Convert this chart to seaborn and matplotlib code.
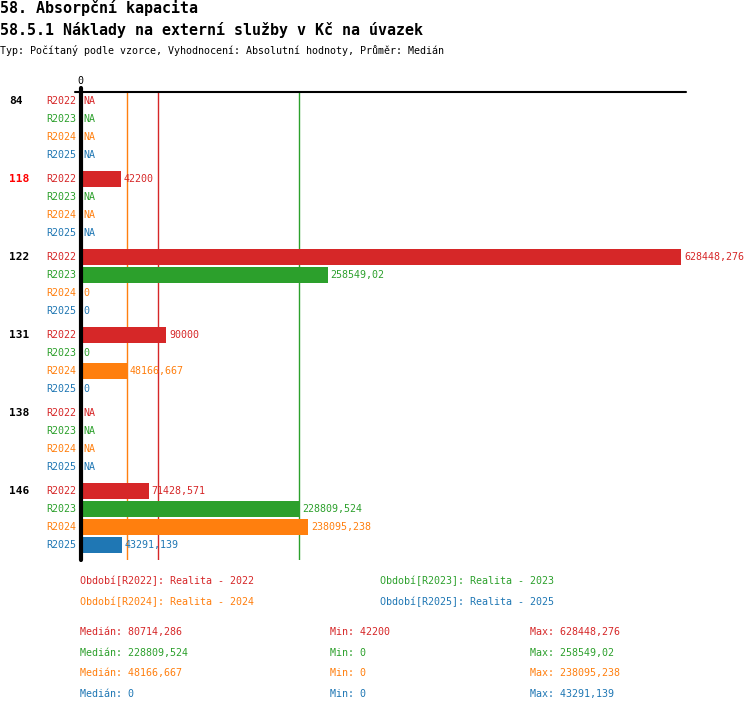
import numpy as np
import pandas as pd
import matplotlib
matplotlib.use("Agg")
import matplotlib.pyplot as plt
from matplotlib.lines import Line2D
import seaborn as sns

# ---------------- data ----------------
groups = ["84", "118", "122", "131", "138", "146"]
periods = ["R2022", "R2023", "R2024", "R2025"]
period_names = ["Realita - 2022", "Realita - 2023", "Realita - 2024", "Realita - 2025"]
nan = np.nan
r2022 = [nan, 42200, 628448.276, 90000, nan, 71428.5714]
r2023 = [nan, nan, 258549.02, 0, nan, 228809.524]
r2024 = [nan, nan, 0, 48166.667, nan, 238095.238]
r2025 = [nan, nan, 0, 0, nan, 43291.139]
highlight_group = "118"

title1 = "58. Absorpční kapacita"
title2 = "58.5.1 Náklady na externí služby v Kč na úvazek"
subtitle = "Typ: Počítaný podle vzorce, Vyhodnocení: Absolutní hodnoty, Průměr: Medián"

colors = {"R2022": "#d62728", "R2023": "#2ca02c", "R2024": "#ff7f0e", "R2025": "#1f77b4"}

series = {"R2022": r2022, "R2023": r2023, "R2024": r2024, "R2025": r2025}

# ---------------- layout helpers ----------------
W, H = 750, 710
GROUP_STEP = 4 + 1 / 3.0
X0 = 80.5

rows = []
for gi, g in enumerate(groups):
    for pi, p in enumerate(periods):
        rows.append({"group": g, "period": p, "pos": gi * GROUP_STEP + pi,
                     "value": series[p][gi]})
df = pd.DataFrame(rows)
df_bars = df.dropna(subset=["value"])


def fmt(v):
    s = f"{v:.3f}".rstrip("0").rstrip(".")
    return s.replace(".", ",")


sns.set_style("white")
plt.rcParams["font.family"] = ["DejaVu Sans Mono", "DejaVu Sans"]
plt.rcParams["text.color"] = "black"
plt.rcParams["xtick.color"] = "black"
FS = 7.2

fig = plt.figure(figsize=(W / 100, H / 100), dpi=100)
ax = fig.add_axes([X0 / W, 1 - 560 / H, (686 - X0) / W, (560 - 92) / H])

sns.barplot(data=df_bars, x="value", y="pos", hue="period", hue_order=periods,
            palette=colors, orient="h", native_scale=True, dodge=False,
            width=16 / 18, errorbar=None, legend=False, ax=ax,
            saturation=1, linewidth=0)

vmax = np.nanmax(df["value"].values)
ax.set_xlim(0, vmax * (686 - X0) / (681 - X0))
ax.set_ylim(25.5, -0.5)

# median lines
stats = {}
for p in periods:
    vals = np.array([v for v in series[p] if not np.isnan(v)])
    stats[p] = (np.median(vals), vals.min(), vals.max())
for p in periods:
    ax.axvline(stats[p][0], color=colors[p], lw=1, zorder=0.5)

# spines and ticks
for s in ["right", "bottom", "top", "left"]:
    ax.spines[s].set_visible(False)
fig.add_artist(Line2D([75 / W, 686 / W], [1 - 92 / H, 1 - 92 / H], color="black", lw=1.5))
fig.add_artist(Line2D([X0 / W, X0 / W], [1 - 88 / H, 1 - 560 / H], color="black", lw=3,
                      zorder=5))
ax.xaxis.tick_top()
ax.set_xticks([0])
ax.set_xticklabels(["0"], fontsize=FS)
ax.tick_params(axis="x", length=4, width=0, pad=0, colors="black")
ax.set_yticks([])
ax.set_xlabel("")
ax.set_ylabel("")
ax.grid(False)

# labels
for _, r in df.iterrows():
    c = colors[r["period"]]
    ax.annotate(r["period"], xy=(0, r["pos"]), xytext=(-4, 0), textcoords="offset pixels",
                ha="right", va="center", fontsize=FS, color=c, annotation_clip=False)
    if np.isnan(r["value"]):
        txt, x = "NA", 0
    else:
        txt, x = fmt(r["value"]), r["value"]
    ax.annotate(txt, xy=(x, r["pos"]), xytext=(3, 0), textcoords="offset pixels",
                ha="left", va="center", fontsize=FS, color=c, annotation_clip=False,
                zorder=6)

for gi, g in enumerate(groups):
    ax.annotate(g, xy=(0, gi * GROUP_STEP), xycoords=("axes fraction", "data"),
                xytext=(9 - X0, 0), textcoords="offset pixels",
                ha="left", va="center", fontsize=8, fontweight="bold",
                color="#ff0000" if g == highlight_group else "black",
                annotation_clip=False)


def ftext(x, y, s, **kw):
    fig.text(x / W, 1 - y / H, s, va="center", ha="left", **kw)


ftext(0, 8, title1, fontsize=10.8, fontweight="bold")
ftext(0, 30, title2, fontsize=10.8, fontweight="bold")
ftext(0, 50, subtitle, fontsize=FS)

leg_pos = [(80, 581), (380, 581), (80, 602), (380, 602)]
for p, name, (x, y) in zip(periods, period_names, leg_pos):
    ftext(x, y, f"Období[{p}]: {name}", fontsize=FS, color=colors[p])

for i, p in enumerate(periods):
    y = 632 + i * 20.7
    med, mn, mx = stats[p]
    ftext(80, y, f"Medián: {fmt(med)}", fontsize=FS, color=colors[p])
    ftext(330, y, f"Min: {fmt(mn)}", fontsize=FS, color=colors[p])
    ftext(530, y, f"Max: {fmt(mx)}", fontsize=FS, color=colors[p])

fig.savefig("out.png", dpi=100)
